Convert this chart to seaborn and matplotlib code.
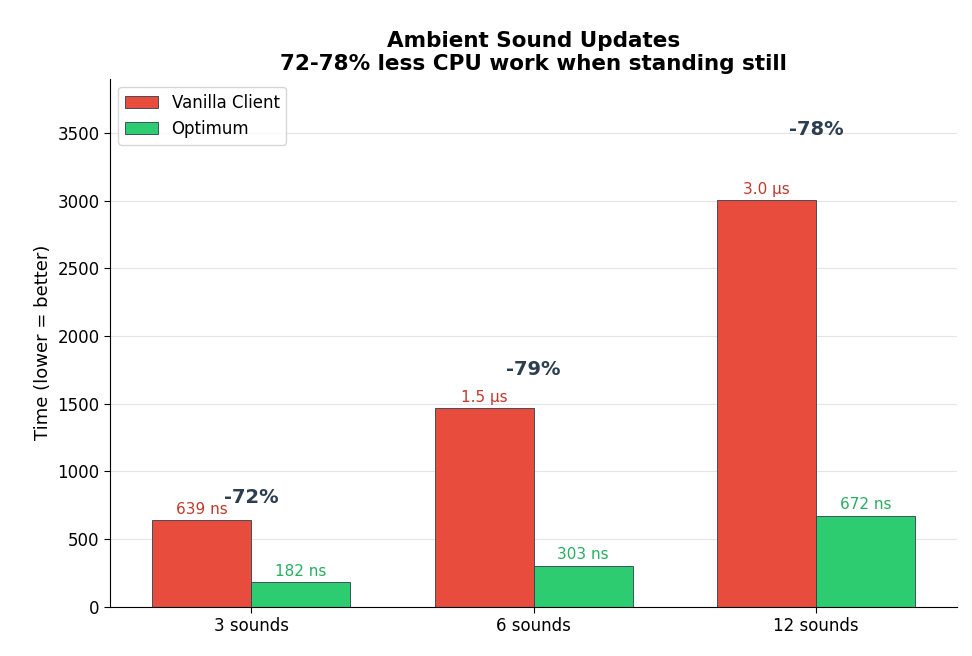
import matplotlib
matplotlib.use("Agg")
import matplotlib.pyplot as plt
import seaborn as sns
import numpy as np
import pandas as pd

categories = ["3 sounds", "6 sounds", "12 sounds"]
vanilla = [639, 1465, 3005]
optimum = [182, 303, 672]
vanilla_labels = ["639 ns", "1.5 µs", "3.0 µs"]
optimum_labels = ["182 ns", "303 ns", "672 ns"]
pct_labels = ["-72%", "-79%", "-78%"]

sns.set_style("white")
plt.rcParams['font.family'] = ['DejaVu Sans']
plt.rcParams['text.color'] = 'black'
plt.rcParams['axes.labelcolor'] = 'black'
plt.rcParams['xtick.color'] = 'black'
plt.rcParams['ytick.color'] = 'black'
plt.rcParams['axes.edgecolor'] = 'black'

df = pd.DataFrame({
    "cat": categories * 2,
    "val": vanilla + optimum,
    "series": ["Vanilla Client"] * 3 + ["Optimum"] * 3,
})

fig, ax = plt.subplots(figsize=(9.72, 6.56), dpi=100)
sns.barplot(data=df, x="cat", y="val", hue="series",
            palette=["#e74c3c", "#2ecc71"], width=0.7, gap=0,
            edgecolor="#2c3e50", linewidth=0.6, saturation=1, ax=ax)

x = np.arange(len(categories))
w = 0.35
for i in range(len(categories)):
    ax.text(x[i] - w/2, vanilla[i] + 25, vanilla_labels[i], ha="center", va="bottom",
            color="#c0392b", fontsize=11)
    ax.text(x[i] + w/2, optimum[i] + 25, optimum_labels[i], ha="center", va="bottom",
            color="#27ae60", fontsize=11)
    ax.text(x[i], vanilla[i] * 1.15, pct_labels[i], ha="center", va="bottom",
            color="#2c3e50", fontsize=14, fontweight="bold")

ax.set_ylim(0, 3900)
ax.set_xlabel("")
ax.set_ylabel("Time (lower = better)", fontsize=13)
ax.set_title("Ambient Sound Updates\n72-78% less CPU work when standing still",
             fontsize=15.5, fontweight="bold", color="black")
ax.tick_params(labelsize=12, length=4, left=True, bottom=True)
ax.yaxis.grid(True, color="#e5e5e5")
ax.set_axisbelow(True)
sns.despine(ax=ax)
ax.legend(loc="upper left", fontsize=12, title=None)
fig.subplots_adjust(left=0.113, right=0.985, top=0.88, bottom=0.075)
fig.savefig("out.png", dpi=100)
